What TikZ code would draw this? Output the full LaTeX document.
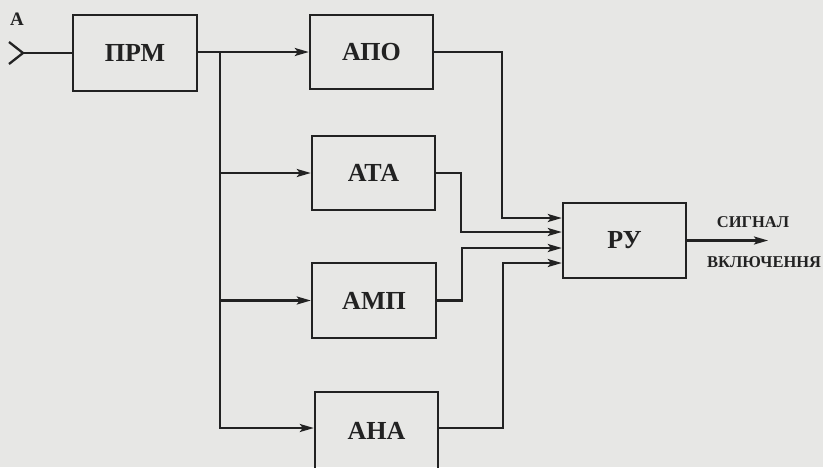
\documentclass[tikz,border=0pt]{standalone}
\usepackage{fontspec}
\setmainfont{Liberation Serif}
\usetikzlibrary{arrows.meta,calc}
\definecolor{paper}{RGB}{231,231,229}
\definecolor{ink}{RGB}{34,34,34}
\tikzset{
  blk/.style={draw=ink, line width=2.4pt, minimum width=123pt, minimum height=74pt, inner sep=0pt,
    font=\fontsize{26}{28}\selectfont\bfseries, text=ink},
  wire/.style={draw=ink, line width=2.3pt},
  arr/.style={wire, -{Stealth[length=14pt,width=8pt,inset=3pt]}},
  lbl/.style={font=\fontsize{16.5}{18}\selectfont\bfseries, text=ink, inner sep=0pt}
}
\begin{document}
\begin{tikzpicture}[x=1pt,y=-1pt]
\fill[paper] (0,0) rectangle (823,467);
\useasboundingbox (0,0) rectangle (823,467);
\begin{scope}
\clip (0,0) rectangle (823,467);
% blocks
\node[blk, minimum width=124pt, minimum height=76pt] (prm) at (135,53) {ПРМ};
\node[blk] (apo) at (371.5,52) {АПО};
\node[blk] (ata) at (373.5,173) {АТА};
\node[blk, minimum width=124pt, minimum height=75pt] (amp) at (374,300.5) {АМП};
\node[blk, minimum height=78pt] (ana) at (376.5,431) {АНА};
\node[blk, minimum height=75pt] (ru) at (624.5,240.5) {РУ};
% input antenna
\node[font=\fontsize{19}{20}\selectfont\bfseries, text=ink, inner sep=0pt] (inA) at (17,19) {А};
\coordinate (a1) at (9,42);
\coordinate (a2) at (9,64);
\coordinate (aj) at (23,53);
\draw[wire] (a1) -- (aj) -- (a2);
\draw[wire] (aj) -- (aj -| prm.west);
% PRM to APO and bus
\draw[arr] (prm.east |- apo.west) -- (apo.west);
\coordinate (bt) at (220,52);
\coordinate (ain) at ($(ana.west)+(0,-3)$);
\draw[arr] (bt) |- (ain);
\draw[arr] (bt |- ata.west) -- (ata.west);
\draw[arr] (bt |- amp.west) -- (amp.west);
% inputs of RU
\coordinate (r1) at ($(ru.west)+(0,-22.5)$);
\coordinate (r2) at ($(ru.west)+(0,-8.5)$);
\coordinate (r3) at ($(ru.west)+(0,7.5)$);
\coordinate (r4) at ($(ru.west)+(0,22.5)$);
\draw[arr] (apo.east) -| ($(r1)+(-60,0)$) -- (r1);
\draw[arr] (ata.east) -| ($(r2)+(-101,0)$) -- (r2);
\draw[arr] (amp.east) -| ($(r3)+(-100,0)$) -- (r3);
\draw[arr] ($(ana.east)+(0,-3)$) -| ($(r4)+(-59,0)$) -- (r4);
% output
\coordinate (out) at (768,240.5);
\draw[arr] (ru.east) -- (out);
\node[lbl] (sig) at (753,222) {СИГНАЛ};
\node[lbl, anchor=west] (vkl) at (707,262) {ВКЛЮЧЕННЯ};
\end{scope}
\end{tikzpicture}
\end{document}
